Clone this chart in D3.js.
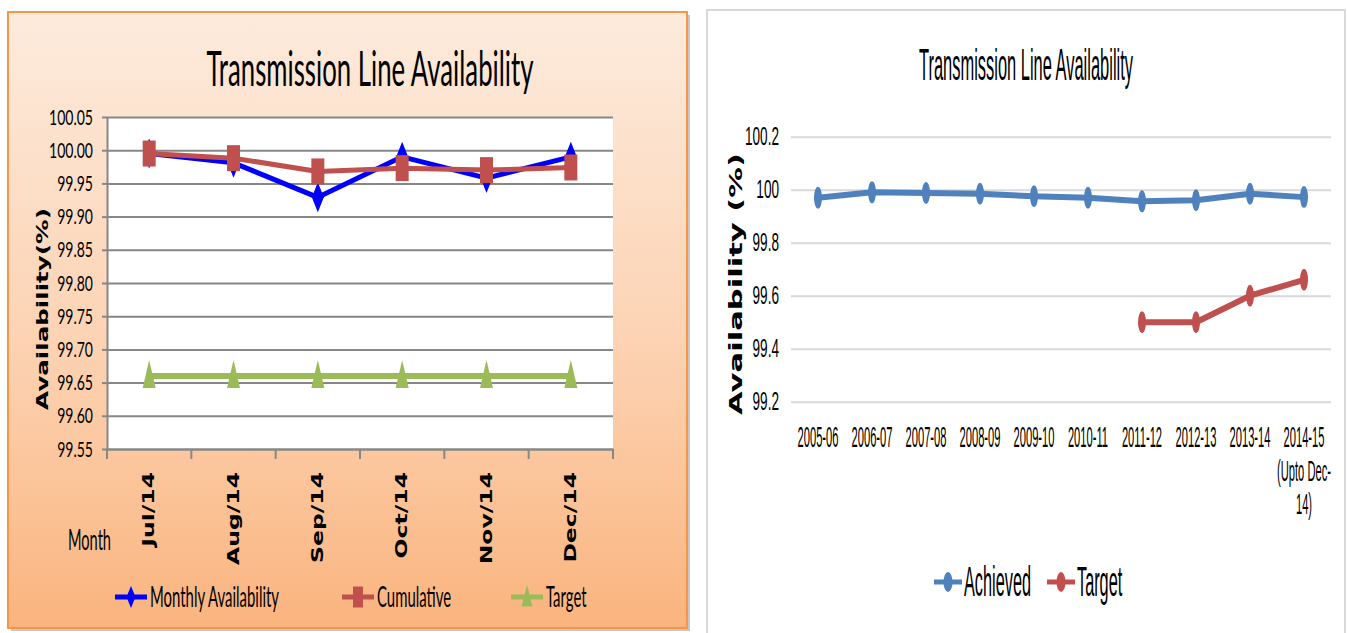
<!DOCTYPE html>
<html lang="en">
<head>
<meta charset="UTF-8">
<title>Transmission Line Availability</title>
<style>
  body { margin: 0; background: #fff; }
  .lt { font-family: Lato, "Open Sans", sans-serif; fill: #000; }
  .rt { font-family: "Liberation Sans", Arial, sans-serif; fill: #000; }
  .bt { font-family: "DejaVu Sans", Verdana, sans-serif; font-weight: bold; fill: #000; }
</style>
</head>
<body>
<svg width="1347" height="633"></svg>
<script src="https://cdn.jsdelivr.net/npm/d3@7"></script>
<script>
// ---- left chart data (monthly, 2014) ----
const months = ["Jul/14", "Aug/14", "Sep/14", "Oct/14", "Nov/14", "Dec/14"];
const monthlyAvail = [99.995, 99.981, 99.929, 99.990, 99.958, 99.990];
const cumulative = [99.995, 99.988, 99.968, 99.973, 99.970, 99.974];
const monthlyTarget = [99.66, 99.66, 99.66, 99.66, 99.66, 99.66];
const leftTicks = [99.55, 99.60, 99.65, 99.70, 99.75, 99.80, 99.85, 99.90, 99.95, 100.00, 100.05];
const leftSeries = ["Monthly Availability", "Cumulative", "Target"];

// ---- right chart data (yearly) ----
const years = ["2005-06", "2006-07", "2007-08", "2008-09", "2009-10", "2010-11", "2011-12", "2012-13", "2013-14", "2014-15"];
const lastYearNote = ["(Upto Dec-", "14)"];
const achieved = [99.97, 99.99, 99.988, 99.985, 99.975, 99.97, 99.956, 99.96, 99.985, 99.972];
const yearTarget = [null, null, null, null, null, null, 99.50, 99.50, 99.60, 99.66];
const rightTicks = [99.2, 99.4, 99.6, 99.8, 100, 100.2];
const rightSeries = ["Achieved", "Target"];

const svg = d3.select("svg");

// squeeze a group of texts so the widest one is maxWidth long; returns the factor used
function squeeze(sel, maxWidth) {
  const widest = d3.max(sel.nodes(), n => n.getComputedTextLength());
  const k = maxWidth / widest;
  scaleText(sel, k);
  return k;
}
function scaleText(sel, k) {
  sel.each(function() {
    const len = this.getComputedTextLength();
    d3.select(this).attr("textLength", len * k).attr("lengthAdjust", "spacingAndGlyphs");
  });
}

const defs = svg.append("defs");
const grad = defs.append("linearGradient").attr("id", "peach")
  .attr("x1", 0).attr("y1", 0).attr("x2", 0).attr("y2", 1);
grad.append("stop").attr("offset", "0%").attr("stop-color", "#fdebdd");
grad.append("stop").attr("offset", "55%").attr("stop-color", "#fcd2b2");
grad.append("stop").attr("offset", "100%").attr("stop-color", "#fab47e");

// =================== LEFT CHART ===================
const left = svg.append("g");
left.append("rect").attr("x", 11).attr("y", 15).attr("width", 679).attr("height", 616)
  .attr("fill", "#c8c8c8");
left.append("rect").attr("x", 8).attr("y", 12).attr("width", 679).attr("height", 616)
  .attr("fill", "url(#peach)").attr("stroke", "#f79646").attr("stroke-width", 2);

const L = { left: 107, right: 613, top: 117, bottom: 449 };
const xL = d3.scaleBand().domain(months).range([L.left, L.right]);
const yL = d3.scaleLinear().domain([99.55, 100.05]).range([L.bottom, L.top]);
const bwL = xL.bandwidth();

left.append("rect").attr("x", L.left).attr("y", L.top)
  .attr("width", L.right - L.left).attr("height", L.bottom - L.top).attr("fill", "#fff");

left.append("g").attr("transform", `translate(${L.left},0)`)
  .call(d3.axisLeft(yL).tickValues(leftTicks).tickSize(-(L.right - L.left)).tickFormat(""))
  .call(g => g.select(".domain").remove())
  .selectAll("line").attr("stroke", "#878787").attr("stroke-width", 2);

const yAxisL = left.append("g").attr("transform", `translate(${L.left},0)`)
  .call(d3.axisLeft(yL).tickValues(leftTicks).tickSize(5).tickSizeOuter(0).tickPadding(9)
    .tickFormat(d3.format(".2f")));
yAxisL.select(".domain").attr("stroke", "#878787").attr("stroke-width", 2);
yAxisL.selectAll("line").attr("stroke", "#878787").attr("stroke-width", 2);
yAxisL.selectAll("text").attr("class", "lt").attr("font-size", 22);
squeeze(yAxisL.selectAll("text"), 44);

// bottom axis line and band-edge ticks
left.append("g").attr("transform", `translate(0,${L.bottom})`)
  .call(d3.axisBottom(xL).tickSize(0).tickSizeOuter(0).tickFormat(""))
  .select(".domain").attr("stroke", "#878787").attr("stroke-width", 2);
const edges = months.map(m => xL(m)).concat([xL(months[months.length - 1]) + bwL]);
left.selectAll(".edge").data(edges).enter().append("line")
  .attr("x1", d => d).attr("x2", d => d)
  .attr("y1", L.bottom).attr("y2", L.bottom + 10)
  .attr("stroke", "#878787").attr("stroke-width", 2);

const monthLabels = left.selectAll(".mlab").data(months).enter().append("text")
  .attr("class", "bt")
  .attr("font-size", 15)
  .attr("text-anchor", "end")
  .attr("dy", "0.35em")
  .attr("transform", d => `translate(${xL(d) + bwL / 2},472) rotate(-90)`)
  .text(d => d);
squeeze(monthLabels, 93);

// title and axis titles
const titleL = left.append("text").attr("class", "lt")
  .attr("x", 370).attr("y", 86).attr("text-anchor", "middle").attr("font-size", 48)
  .text("Transmission Line Availability");
squeeze(titleL, 327);

const yTitleL = left.append("text").attr("class", "bt").attr("font-size", 16)
  .attr("text-anchor", "middle").attr("transform", "translate(48,309) rotate(-90)")
  .text("Availability(%)");
squeeze(yTitleL, 202);

const monthTitle = left.append("text").attr("class", "lt").attr("font-size", 28)
  .attr("x", 68).attr("y", 550).text("Month");
squeeze(monthTitle, 43);

// markers
const diamond = (w, h) => `M0,${-h / 2}L${w / 2},0L0,${h / 2}L${-w / 2},0Z`;
const square = (w, h) => `M${-w / 2},${-h / 2}h${w}v${h}h${-w}Z`;
const triangle = (w, h) => `M0,${-h * 0.57}L${w / 2},${h * 0.43}L${-w / 2},${h * 0.43}Z`;

const lineL = d3.line().x((d, i) => xL(months[i]) + bwL / 2).y(d => yL(d));

const leftDefs = [
  { values: monthlyTarget, color: "#9bbb59", width: 6, shape: triangle, mw: 13, mh: 28 },
  { values: monthlyAvail, color: "#0000ff", width: 5, shape: diamond, mw: 12, mh: 30 },
  { values: cumulative, color: "#c0504d", width: 5, shape: square, mw: 13, mh: 26 }
];
leftDefs.forEach(s => {
  left.append("path").attr("d", lineL(s.values)).attr("fill", "none")
    .attr("stroke", s.color).attr("stroke-width", s.width).attr("stroke-linejoin", "round");
  left.selectAll(null).data(s.values).enter().append("path")
    .attr("transform", (d, i) => `translate(${xL(months[i]) + bwL / 2},${yL(d)})`)
    .attr("d", s.shape(s.mw, s.mh)).attr("fill", s.color);
});

// left legend
const legL = [
  { name: leftSeries[0], x: 115, color: "#0000ff", shape: diamond(9, 22) },
  { name: leftSeries[1], x: 342, color: "#c0504d", shape: square(10, 21) },
  { name: leftSeries[2], x: 511, color: "#9bbb59", shape: triangle(11, 22) }
];
const legItems = left.selectAll(".leg").data(legL).enter().append("g")
  .attr("transform", d => `translate(${d.x},597)`);
legItems.append("line").attr("x1", 0).attr("x2", 32)
  .attr("stroke", d => d.color).attr("stroke-width", 5);
legItems.append("path").attr("transform", "translate(16,0)").attr("d", d => d.shape)
  .attr("fill", d => d.color);
const legTextL = legItems.append("text").attr("class", "lt").attr("font-size", 28)
  .attr("x", 35).attr("y", 10).text(d => d.name);
squeeze(legTextL, 129);

// =================== RIGHT CHART ===================
const right = svg.append("g");
right.append("rect").attr("x", 707).attr("y", 10).attr("width", 638).attr("height", 640)
  .attr("fill", "#fff").attr("stroke", "#d9d9d9").attr("stroke-width", 2);

const R = { left: 791, right: 1331, top: 136.7, bottom: 401.7 };
const xR = d3.scaleBand().domain(years).range([R.left, R.right]);
const yR = d3.scaleLinear().domain([99.2, 100.2]).range([R.bottom, R.top]);
const bwR = xR.bandwidth();

right.append("g").attr("transform", `translate(${R.left},0)`)
  .call(d3.axisLeft(yR).tickValues(rightTicks).tickSize(-(R.right - R.left)).tickFormat(""))
  .call(g => g.select(".domain").remove())
  .selectAll("line").attr("stroke", "#d9d9d9").attr("stroke-width", 2);

const yAxisR = right.append("g").attr("transform", `translate(${R.left},0)`)
  .call(d3.axisLeft(yR).tickValues(rightTicks).tickSize(0).tickPadding(12)
    .tickFormat(d => String(+d.toFixed(1))));
yAxisR.select(".domain").remove();
yAxisR.selectAll("text").attr("class", "rt").attr("font-size", 25);
squeeze(yAxisR.selectAll("text"), 34);

const yearLabels = right.selectAll(".ylab").data(years).enter().append("text")
  .attr("class", "rt").attr("font-size", 29).attr("text-anchor", "middle")
  .attr("x", d => xR(d) + bwR / 2).attr("y", 447).text(d => d);
const kYear = squeeze(yearLabels, 41);
const noteLabels = right.selectAll(".note").data(lastYearNote).enter().append("text")
  .attr("class", "rt").attr("font-size", 29).attr("text-anchor", "middle")
  .attr("x", xR(years[years.length - 1]) + bwR / 2)
  .attr("y", (d, i) => 481 + i * 33).text(d => d);
scaleText(noteLabels, kYear);

const titleR = right.append("text").attr("class", "rt")
  .attr("x", 1026).attr("y", 80).attr("text-anchor", "middle").attr("font-size", 44)
  .text("Transmission Line Availability");
squeeze(titleR, 214);

const yTitleR = right.append("text").attr("class", "bt").attr("font-size", 18)
  .attr("text-anchor", "middle").attr("transform", "translate(742,284) rotate(-90)")
  .text("Availability (%)");
squeeze(yTitleR, 262);

const lineR = d3.line().defined(d => d !== null)
  .x((d, i) => xR(years[i]) + bwR / 2).y(d => yR(d));

const rightDefs = [
  { values: achieved, color: "#4f81bd" },
  { values: yearTarget, color: "#c0504d" }
];
rightDefs.forEach(s => {
  right.append("path").attr("d", lineR(s.values)).attr("fill", "none")
    .attr("stroke", s.color).attr("stroke-width", 6).attr("stroke-linejoin", "round");
  right.selectAll(null).data(s.values.map((v, i) => ({ v, i })).filter(d => d.v !== null))
    .enter().append("ellipse")
    .attr("cx", d => xR(years[d.i]) + bwR / 2).attr("cy", d => yR(d.v))
    .attr("rx", 4).attr("ry", 11).attr("fill", s.color);
});

// right legend
const legR = [
  { name: rightSeries[0], x: 934, color: "#4f81bd" },
  { name: rightSeries[1], x: 1047, color: "#c0504d" }
];
const legItemsR = right.selectAll(".legr").data(legR).enter().append("g")
  .attr("transform", d => `translate(${d.x},582)`);
legItemsR.append("line").attr("x1", 0).attr("x2", 28)
  .attr("stroke", d => d.color).attr("stroke-width", 5);
legItemsR.append("ellipse").attr("cx", 14).attr("rx", 4.5).attr("ry", 10)
  .attr("fill", d => d.color);
const legTextR = legItemsR.append("text").attr("class", "rt").attr("font-size", 42)
  .attr("x", 30).attr("y", 14).text(d => d.name);
squeeze(legTextR, 67);
</script>
</body>
</html>
